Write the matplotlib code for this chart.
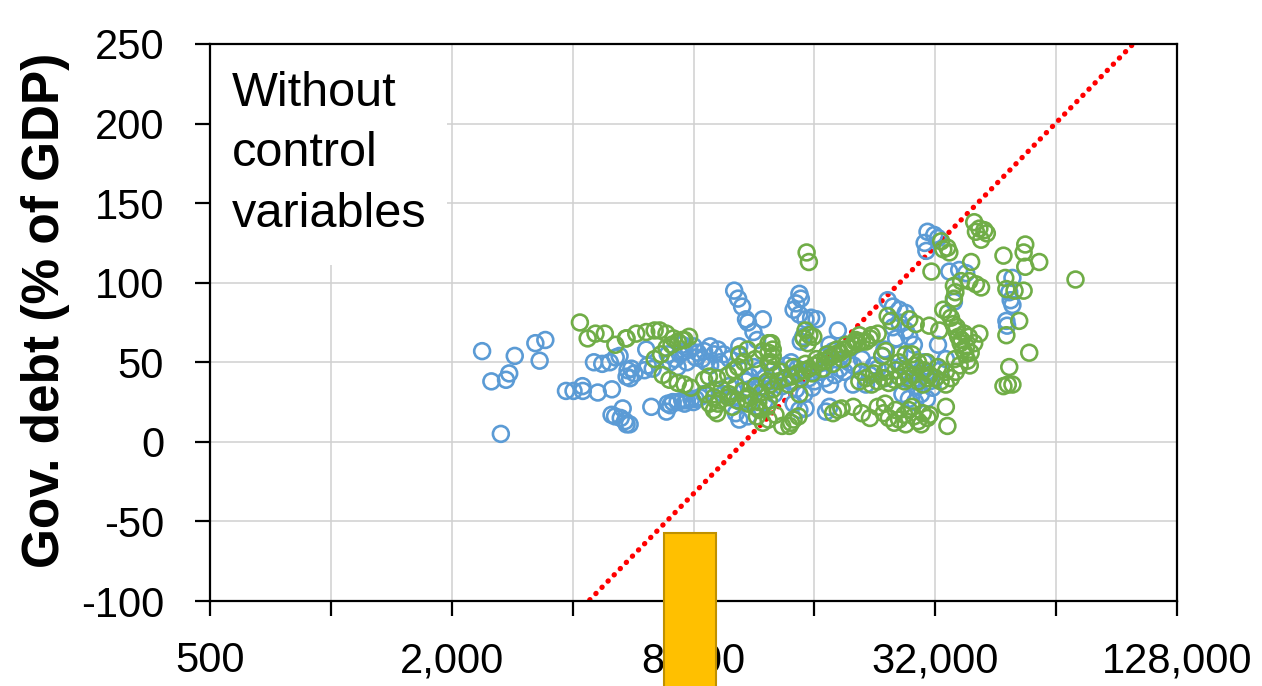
import numpy as np
import matplotlib
matplotlib.use('Agg')
import matplotlib.pyplot as plt
from matplotlib.patches import Rectangle

plt.rcParams['font.family'] = ['Liberation Sans', 'DejaVu Sans']
plt.rcParams['axes.unicode_minus'] = False

# GDP per capita (x) and gov. debt in % of GDP (y)
blue_x = [2380, 2510, 2730, 2780, 2870, 3230, 3420, 3310, 2650,
          3850, 4020, 4230, 4240, 4620, 5010,
          4520, 4740, 4950, 5120, 5235,
          5480, 5560, 5450, 5700, 5600,
          5000, 5100, 5330, 5270, 5450, 5545, 5400,
          6100, 6150, 6330, 6040, 6280, 6850,
          7000, 7200, 7400, 7600, 7800, 8000, 8200, 8400, 8600, 8800, 9000,
          9200, 9500, 9835, 7300, 7700, 8100, 8500, 6900, 7500, 9300, 8800,
          6900, 7100, 7300, 7500, 7700, 7900, 8100, 8300, 7000, 7600, 8000, 8500,
          10100, 10330, 10570, 10810, 10930, 11280, 11520, 11900,
          10400, 10930, 10200, 10400, 10400, 11300, 11030,
          14680, 14800, 14400, 14200, 14680, 15700, 16200, 15200, 18300,
          14800, 15000, 17440, 17800, 17100,
          24350, 25100, 26030, 27000, 26030, 25100, 27000, 25570, 23900, 23600,
          14200, 14680, 15200, 17440, 17100, 19950,
          11700, 12000, 12400, 12800, 13200, 13600, 14000, 14500, 15000, 15500,
          16000, 12200, 12700, 13300, 13900, 14400, 15100, 15800, 11500, 16500,
          17000, 17500, 18000, 18500, 19000, 19500, 20000, 21000,
          9500, 10000, 10500, 11000, 11500, 12000, 9000, 9800, 10800,
          30600, 30100, 30400, 31800, 32500, 34680, 36700, 38200,
          49800, 48900, 49300, 49800, 48100, 48300, 35600, 32500, 28300, 27570,
          26000, 26500, 27000, 27500, 28000, 28500, 29000, 29500, 30000, 30500,
          31000, 31500, 26500, 27500, 28500, 29500, 30500, 32000, 33000, 34000,
          22000, 23000, 24000, 21500, 22500]
blue_y = [57, 38, 39, 43, 54, 62, 64, 51, 5,
          32, 32, 35, 32, 31, 33,
          50, 49, 50, 53, 54,
          45, 40, 41, 43, 46,
          17, 16, 21, 15, 11, 11, 13,
          58, 48, 46, 45, 22, 19,
          50, 52, 55, 57, 58, 60, 56, 52, 50, 48, 55,
          58, 55, 52, 47, 50, 53, 57, 55, 61, 50, 60,
          24, 25, 25, 26, 26, 27, 27, 28, 23, 24, 25, 30,
          95, 90, 85, 77, 75, 69, 64, 77,
          14, 16, 18, 60, 54, 47, 41,
          93, 90, 87, 83, 80, 78, 77, 77, 70,
          63, 66, 61, 57, 54,
          89, 85, 83, 81, 75, 72, 70, 65, 58, 54,
          24, 20, 21, 22, 19, 36,
          45, 40, 38, 42, 45, 48, 50, 46, 42, 40,
          38, 33, 30, 35, 38, 33, 30, 34, 36, 44,
          40, 36, 42, 46, 44, 50, 48, 52,
          30, 28, 25, 33, 22, 25, 33, 35, 38,
          132, 125, 120, 130, 128, 107, 108, 106,
          103, 94, 89, 86, 76, 73, 88, 61, 61, 66,
          55, 48, 45, 42, 38, 35, 40, 45, 50, 44,
          38, 34, 30, 27, 25, 30, 27, 40, 45, 52,
          42, 46, 40, 36, 48]

green_x = [4170, 4360, 4560, 4810, 5110, 5430,
           5450, 5760, 6100, 6400, 6590, 6850, 7130, 7500, 7800,
           6400, 6640, 6850, 7050, 7310, 7600,
           6700, 6970, 7310, 7600, 7880, 8500, 8740, 9160, 9760, 10100, 10330,
           8990, 9160, 8770, 9290, 9760, 10280, 10930, 11410, 11670, 12200, 12320,
           12300, 12300, 12300,
           15200, 15550, 15050, 15900, 15400, 15300, 15500,
           24350, 24800, 20710, 20300, 21500, 22200,
           12500, 12600, 12600, 12500, 12600,
           14000, 14200, 14600, 13860, 17800, 18300, 18700, 24100, 23600,
           12400, 13000, 13500, 14000, 14500, 15000, 15500, 16000, 16500, 17000,
           17500, 18000, 18500, 19000, 19500, 20000, 20500, 21000, 22000, 23000,
           13200, 14200, 15200, 16200, 17200, 18200, 19200, 20200,
           13800, 14800, 15800, 16800, 17800, 18800,
           20700, 21500, 22200, 23000, 23800, 24500, 25300, 26000, 26800, 27500,
           28300, 29000, 29800, 30600, 21000, 22500, 24000, 25500, 27000,
           23000, 23800, 24500, 25300, 26000, 26800, 27500, 28300, 29000, 29800,
           30600, 24000, 25500, 27000, 28000, 29500, 31000, 22000, 21000, 20000,
           11900, 12300, 12800, 13300, 11500,
           40000, 41200, 42400, 41600, 40400, 43000,
           33100, 34300, 34680, 33500, 39300, 31300,
           47300, 53600, 53100, 53600, 58070, 71500,
           47800, 48100, 50400, 53100,
           35600, 37100, 38900, 40400, 41600, 35900, 35600,
           51770, 48100, 54840, 48900, 47300, 48500, 49800, 34000, 34300, 41200,
           27570, 28600, 30900, 32740, 33500, 34400,
           35000, 35500, 36000, 36500, 37000, 37500, 38000, 38500, 39000,
           36200, 37200, 38200, 39200, 37800, 35800, 36800, 38800, 40000,
           28000, 29000, 30000, 31000, 32000, 33000, 34000, 35000, 36000,
           28500, 30500, 32500, 34000, 26000, 27000,
           10400, 10900, 11400, 11900, 10700,
           8600, 9000, 9400, 9800, 10200, 10600, 11000, 11400, 11800, 12200,
           12600, 9200, 10000, 10800, 11600, 14680]
green_y = [75, 65, 68, 68, 61, 65,
           65, 68, 69, 70, 70, 68, 65, 64, 66,
           52, 55, 59, 61, 63, 64,
           42, 39, 37, 36, 34, 39, 41, 40, 42, 45, 47,
           20, 18, 24, 26, 28, 26, 24, 22, 20, 22, 26,
           62, 56, 50,
           70, 67, 65, 66, 62, 119, 113,
           79, 76, 67, 64, 63, 67,
           62, 58, 54, 50, 45,
           12, 14, 16, 10, 18, 20, 21, 57, 54,
           36, 38, 40, 41, 43, 45, 46, 48, 50, 51,
           53, 55, 56, 58, 59, 61, 62, 63, 65, 68,
           44, 47, 49, 52, 55, 58, 61, 63,
           36, 40, 43, 46, 49, 52,
           38, 40, 36, 38, 40, 37, 39, 41, 38, 40,
           42, 38, 36, 40, 44, 43, 44, 45, 44,
           22, 18, 15, 12, 14, 17, 20, 16, 13, 18,
           15, 24, 20, 11, 22, 11, 17, 15, 18, 22,
           12, 14, 17, 10, 16,
           138, 134, 133, 127, 132, 131,
           126, 122, 119, 121, 113, 107,
           117, 124, 119, 110, 113, 102,
           103, 96, 95, 95,
           98, 101, 101, 99, 97, 94, 90,
           76, 67, 56, 47, 35, 36, 36, 22, 10, 68,
           77, 74, 73, 70, 83, 81,
           78, 74, 70, 66, 62, 58, 55, 51, 48,
           72, 64, 60, 56, 68, 52, 48, 66, 62,
           55, 50, 45, 42, 40, 38, 36, 40, 44,
           48, 50, 47, 44, 50, 55,
           55, 58, 52, 57, 50,
           30, 28, 33, 30, 35, 32, 29, 35, 31, 38,
           33, 24, 22, 27, 25, 30]

# dotted trend line: y = a + b * log2(x)
trend_a = -1040.0
trend_b = 77.7

# highlighted bar below the axis
bar_left = 6740
bar_right = 9080
bar_top = -57

ticks = [500, 1000, 2000, 4000, 8000, 16000, 32000, 64000, 128000]
tick_labels = ['500', '', '2,000', '', '8,000', '', '32,000', '', '128,000']

fig = plt.figure(figsize=(12.62, 6.86), dpi=100)
ax = fig.add_axes([0.1664, 0.1239, 0.7663, 0.812])

ax.set_xscale('log', base=2)
ax.set_xlim(500, 128000)
ax.set_ylim(-100, 250)
ax.set_axisbelow(True)
ax.grid(True, color='#d0d0d0', linewidth=1.1)

xs = np.array([500, 128000])
ax.plot(xs, trend_a + trend_b * np.log2(xs), color='#ff0000',
        linewidth=3.8, linestyle=(0, (0.05, 1.6)), dash_capstyle='round', zorder=2)

ax.scatter(blue_x, blue_y, s=130, facecolors='none', edgecolors='#5b9bd5',
           linewidths=1.9, zorder=3)
ax.scatter(green_x, green_y, s=130, facecolors='none', edgecolors='#70ad47',
           linewidths=1.9, zorder=4)

ax.set_xticks(ticks)
ax.set_xticklabels(tick_labels)
ax.minorticks_off()
ax.set_yticks(range(-100, 251, 50))
ax.tick_params(axis='both', labelsize=30, length=11, width=1.6, color='black')
ax.tick_params(axis='y', pad=22)
ax.tick_params(axis='x', pad=18)
for sp in ax.spines.values():
    sp.set_linewidth(1.6)
    sp.set_color('black')

# white box with the panel note
ax.add_patch(Rectangle((0, 0.603), 0.245, 0.397, transform=ax.transAxes,
                       facecolor='white', edgecolor='none', zorder=1))
ax.text(0.023, 0.952, 'Without\ncontrol\nvariables', transform=ax.transAxes,
        fontsize=35, va='top', ha='left', linespacing=1.45, zorder=5)

ax.bar(bar_left, -160 - bar_top, width=bar_right - bar_left, bottom=bar_top,
       align='edge', color='#ffc000', edgecolor='#bf9000', linewidth=1.5,
       clip_on=False, zorder=10)

fig.text(0.036, 0.548, 'Gov. debt (% of GDP)', rotation=90, fontsize=37,
         fontweight='bold', ha='center', va='center')

fig.savefig('out.png', dpi=100)
